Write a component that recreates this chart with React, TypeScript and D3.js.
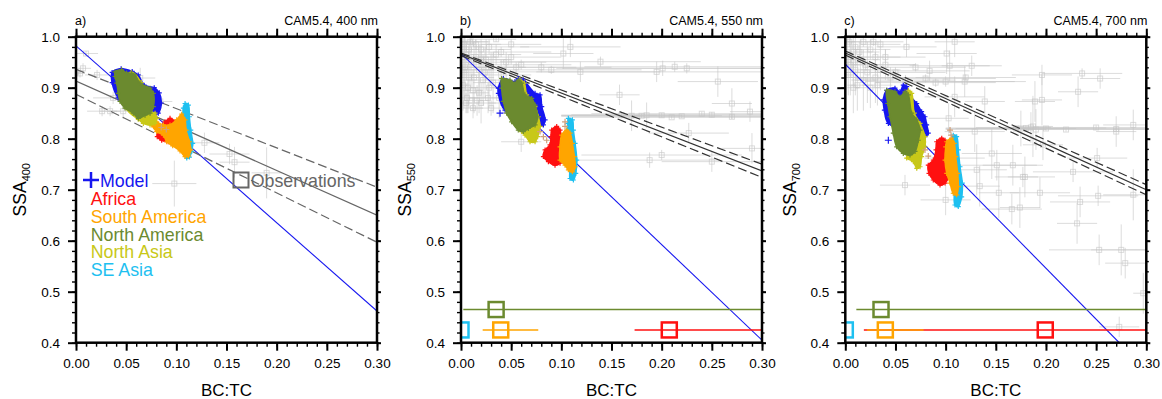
import React, { useEffect, useRef } from 'react';
import * as d3 from 'd3';

// tick labels
const xMajor = [0, 0.05, 0.1, 0.15, 0.2, 0.25, 0.3];
const yMajor = [0.4, 0.5, 0.6, 0.7, 0.8, 0.9, 1.0];
const panelLetters = ['a)', 'b)', 'c)'];
const panelTitles = ['CAM5.4, 400 nm', 'CAM5.4, 550 nm', 'CAM5.4, 700 nm'];
const ssaSubs = ['400', '550', '700'];

// legend
const regionNames = ['Africa', 'South America', 'North America', 'North Asia', 'SE Asia'];
const regionKeys = ['africa', 'southAmerica', 'northAmerica', 'northAsia', 'seAsia'];

// model fit line [x0, y0, x1, y1]
const modelLines = [
  [0, 0.982, 0.3, 0.462],
  [0, 0.967, 0.3, 0.405],
  [0, 0.946, 0.273, 0.4],
];
// observation fit: [solid, upper dashed, lower dashed], each [y at 0, y at 0.3]
const fitA = [[0.913, 0.65], [0.936, 0.705], [0.887, 0.597]];
const fitB = [[0.966, 0.737], [0.968, 0.75], [0.963, 0.724]];
const fitC = [[0.968, 0.7], [0.972, 0.71], [0.964, 0.69]];

// observations [x, y, xerr, yerr]
const obsA = [
  [0.010, 0.967, 0.012, 0.005], [0.007, 0.938, 0.008, 0.01], [0.004, 0.928, 0.005, 0.008],
  [0.021, 0.925, 0.012, 0.01], [0.037, 0.880, 0.02, 0.012], [0.026, 0.854, 0.015, 0.01],
  [0.034, 0.854, 0.01, 0.01], [0.047, 0.854, 0.015, 0.015], [0.084, 0.873, 0.012, 0.015],
  [0.064, 0.919, 0.015, 0.02], [0.128, 0.792, 0.015, 0.02], [0.153, 0.770, 0.02, 0.02],
  [0.158, 0.754, 0.015, 0.03], [0.190, 0.733, 0.015, 0.05], [0.098, 0.712, 0.022, 0.045],
  [0.0, 0.93, 0.005, 0.01],
];
const obsB = [
  [0.003, 0.985, 0.006, 0.015], [0.008, 0.975, 0.01, 0.02], [0.012, 0.99, 0.015, 0.01],
  [0.005, 0.965, 0.008, 0.03], [0.015, 0.96, 0.02, 0.025], [0.02, 0.975, 0.03, 0.02],
  [0.025, 0.955, 0.02, 0.04], [0.01, 0.95, 0.012, 0.05], [0.004, 0.94, 0.006, 0.06],
  [0.018, 0.935, 0.015, 0.05], [0.03, 0.94, 0.035, 0.03], [0.035, 0.965, 0.025, 0.02],
  [0.008, 0.92, 0.01, 0.06], [0.022, 0.915, 0.02, 0.05], [0.002, 0.905, 0.004, 0.05],
  [0.012, 0.895, 0.01, 0.04], [0.028, 0.9, 0.02, 0.04], [0.04, 0.925, 0.03, 0.03],
  [0.045, 0.95, 0.04, 0.02], [0.006, 0.88, 0.008, 0.03], [0.016, 0.875, 0.012, 0.03],
  [0.05, 0.985, 0.03, 0.01], [0.035, 0.995, 0.02, 0.005], [0.02, 0.87, 0.015, 0.04],
  [0.045, 0.9, 0.02, 0.05],
  [0.003, 0.93, 0.004, 0.07], [0.007, 0.9, 0.01, 0.05], [0.013, 0.92, 0.02, 0.07],
  [0.018, 0.89, 0.01, 0.04], [0.024, 0.93, 0.03, 0.05], [0.027, 0.88, 0.02, 0.03],
  [0.032, 0.91, 0.02, 0.06], [0.038, 0.88, 0.03, 0.04], [0.042, 0.87, 0.015, 0.02],
  [0.001, 0.96, 0.003, 0.04], [0.009, 0.99, 0.02, 0.008], [0.015, 0.985, 0.025, 0.01],
  [0.028, 0.98, 0.04, 0.015], [0.04, 0.97, 0.05, 0.01], [0.05, 0.96, 0.05, 0.015],
  [0.055, 0.94, 0.06, 0.01], [0.012, 0.86, 0.01, 0.02], [0.005, 0.87, 0.006, 0.02],
  [0.03, 0.86, 0.02, 0.015], [0.02, 0.955, 0.03, 0.03],
  [0.139, 0.951, 0.1, 0.01], [0.195, 0.931, 0.12, 0.02], [0.201, 0.938, 0.1, 0.015],
  [0.213, 0.941, 0.09, 0.01], [0.225, 0.938, 0.13, 0.01], [0.119, 0.931, 0.08, 0.02],
  [0.102, 0.967, 0.03, 0.03], [0.109, 0.980, 0.05, 0.02], [0.08, 0.94, 0.07, 0.01],
  [0.06, 0.945, 0.05, 0.01], [0.09, 0.935, 0.09, 0.008],
  [0.2, 0.846, 0.1, 0.004], [0.22, 0.844, 0.12, 0.003], [0.25, 0.847, 0.14, 0.005],
  [0.18, 0.845, 0.08, 0.004], [0.27, 0.843, 0.1, 0.004], [0.16, 0.846, 0.06, 0.006],
  [0.24, 0.849, 0.11, 0.004], [0.21, 0.842, 0.1, 0.003], [0.17, 0.845, 0.01, 0.03],
  [0.185, 0.846, 0.01, 0.025],
  [0.158, 0.886, 0.02, 0.02], [0.256, 0.912, 0.04, 0.03], [0.270, 0.869, 0.02, 0.03],
  [0.288, 0.853, 0.02, 0.02], [0.227, 0.811, 0.04, 0.02], [0.290, 0.781, 0.03, 0.03],
  [0.250, 0.755, 0.05, 0.02], [0.188, 0.758, 0.07, 0.015], [0.060, 0.794, 0.02, 0.02],
  [0.2, 0.768, 0.08, 0.01],
];
const obsC = [
  [0.004, 0.99, 0.006, 0.01], [0.01, 0.98, 0.012, 0.02], [0.018, 0.99, 0.015, 0.01],
  [0.025, 0.975, 0.02, 0.02], [0.006, 0.96, 0.008, 0.03], [0.015, 0.955, 0.02, 0.04],
  [0.03, 0.96, 0.025, 0.03], [0.035, 0.985, 0.02, 0.01], [0.04, 0.945, 0.03, 0.03],
  [0.01, 0.935, 0.012, 0.05], [0.022, 0.93, 0.02, 0.06], [0.003, 0.925, 0.005, 0.04],
  [0.03, 0.92, 0.03, 0.05], [0.045, 0.92, 0.04, 0.02], [0.012, 0.905, 0.01, 0.05],
  [0.025, 0.9, 0.015, 0.04], [0.008, 0.95, 0.01, 0.05], [0.02, 0.945, 0.05, 0.01],
  [0.05, 0.93, 0.05, 0.01],
  [0.002, 0.97, 0.004, 0.03], [0.014, 0.97, 0.02, 0.02], [0.028, 0.99, 0.03, 0.008],
  [0.018, 0.915, 0.012, 0.06], [0.035, 0.935, 0.02, 0.04], [0.008, 0.9, 0.006, 0.05],
  [0.04, 0.96, 0.04, 0.015], [0.005, 0.945, 0.008, 0.06], [0.032, 0.905, 0.015, 0.04],
  [0.08, 0.918, 0.07, 0.008], [0.1, 0.912, 0.08, 0.01], [0.06, 0.915, 0.05, 0.01],
  [0.12, 0.92, 0.05, 0.006], [0.09, 0.91, 0.06, 0.008], [0.07, 0.94, 0.05, 0.008],
  [0.2, 0.82, 0.1, 0.004], [0.22, 0.818, 0.12, 0.004], [0.25, 0.822, 0.12, 0.004],
  [0.18, 0.821, 0.08, 0.005], [0.27, 0.819, 0.1, 0.004], [0.17, 0.82, 0.06, 0.006],
  [0.185, 0.822, 0.02, 0.03], [0.19, 0.818, 0.01, 0.04], [0.175, 0.82, 0.01, 0.035],
  [0.061, 0.980, 0.03, 0.02], [0.109, 0.990, 0.02, 0.03], [0.101, 0.967, 0.03, 0.04],
  [0.104, 0.943, 0.04, 0.03], [0.126, 0.943, 0.03, 0.02], [0.084, 0.933, 0.04, 0.02],
  [0.119, 0.912, 0.05, 0.03], [0.196, 0.925, 0.03, 0.02], [0.236, 0.928, 0.04, 0.01],
  [0.254, 0.918, 0.02, 0.02], [0.232, 0.892, 0.02, 0.03], [0.196, 0.876, 0.02, 0.05],
  [0.189, 0.873, 0.02, 0.04], [0.139, 0.873, 0.02, 0.03], [0.109, 0.882, 0.03, 0.04],
  [0.103, 0.840, 0.02, 0.03], [0.129, 0.814, 0.03, 0.04], [0.146, 0.771, 0.03, 0.05],
  [0.151, 0.748, 0.04, 0.03], [0.167, 0.748, 0.03, 0.04], [0.187, 0.824, 0.02, 0.06],
  [0.197, 0.788, 0.02, 0.03], [0.251, 0.762, 0.03, 0.02], [0.287, 0.827, 0.03, 0.03],
  [0.270, 0.814, 0.02, 0.03], [0.179, 0.725, 0.03, 0.04], [0.227, 0.735, 0.04, 0.02],
  [0.131, 0.739, 0.03, 0.05], [0.109, 0.762, 0.03, 0.03], [0.0595, 0.709, 0.025, 0.02],
  [0.100, 0.680, 0.025, 0.03], [0.134, 0.707, 0.02, 0.04], [0.153, 0.694, 0.02, 0.05],
  [0.174, 0.665, 0.02, 0.04], [0.166, 0.662, 0.03, 0.03], [0.177, 0.725, 0.015, 0.02],
  [0.194, 0.694, 0.03, 0.03], [0.234, 0.676, 0.03, 0.03], [0.252, 0.688, 0.04, 0.02],
  [0.231, 0.634, 0.02, 0.04], [0.253, 0.582, 0.05, 0.03], [0.275, 0.582, 0.03, 0.05],
  [0.279, 0.556, 0.02, 0.03], [0.287, 0.690, 0.03, 0.05], [0.297, 0.497, 0.01, 0.04],
  [0.273, 0.431, 0.02, 0.02],
];

// model clouds (outlines), panel a
const modelA = [[0.036, 0.93], [0.045, 0.937], [0.056, 0.932], [0.062, 0.925], [0.068, 0.905], [0.078, 0.9], [0.083, 0.89], [0.085, 0.87], [0.082, 0.85], [0.075, 0.845], [0.06, 0.85], [0.042, 0.88], [0.036, 0.91]];
const naA = [[0.0389, 0.931], [0.0455, 0.935], [0.0505, 0.929], [0.0555, 0.928], [0.0588, 0.925], [0.0638, 0.909], [0.0738, 0.899], [0.0771, 0.889], [0.0771, 0.863], [0.0738, 0.85], [0.0688, 0.846], [0.0621, 0.84], [0.0571, 0.85], [0.0488, 0.86], [0.0439, 0.873], [0.0422, 0.889], [0.0406, 0.909], [0.0389, 0.922]];
const asA = [[0.055, 0.93], [0.065, 0.91], [0.0738, 0.853], [0.0788, 0.85], [0.0804, 0.84], [0.0788, 0.83], [0.0738, 0.827], [0.0671, 0.83], [0.0621, 0.838], [0.05, 0.86]];
const afA = [[0.0887, 0.833], [0.0937, 0.84], [0.0987, 0.833], [0.1004, 0.824], [0.0987, 0.814], [0.0954, 0.797], [0.092, 0.794], [0.0854, 0.797], [0.081, 0.804], [0.082, 0.817]];
const saA = [[0.0738, 0.843], [0.0804, 0.833], [0.0871, 0.827], [0.0937, 0.827], [0.1004, 0.837], [0.1054, 0.848], [0.1087, 0.837], [0.1097, 0.817], [0.113, 0.794], [0.1144, 0.778], [0.112, 0.766], [0.1087, 0.765], [0.1037, 0.776], [0.0964, 0.786], [0.0904, 0.794], [0.0871, 0.807], [0.0804, 0.814], [0.0755, 0.827]];
const seA = [[0.1087, 0.869], [0.112, 0.866], [0.113, 0.843], [0.1144, 0.817], [0.1163, 0.791], [0.1153, 0.775], [0.113, 0.764], [0.1104, 0.762], [0.1087, 0.778], [0.107, 0.804], [0.1064, 0.837], [0.107, 0.86]];
const tanA = [[0.085, 0.822], [0.09, 0.818]];

// panel b
const modelB = [[0.0372, 0.899], [0.0422, 0.918], [0.0538, 0.912], [0.0571, 0.918], [0.0621, 0.915], [0.0738, 0.889], [0.0788, 0.886], [0.0805, 0.863], [0.0838, 0.837], [0.0821, 0.827], [0.0771, 0.824], [0.0738, 0.843], [0.0439, 0.856], [0.0372, 0.889]];
const naB = [[0.0405, 0.918], [0.0488, 0.915], [0.0538, 0.909], [0.0571, 0.915], [0.0605, 0.909], [0.0638, 0.886], [0.0705, 0.879], [0.0738, 0.866], [0.0764, 0.843], [0.0738, 0.827], [0.0671, 0.82], [0.0621, 0.814], [0.0571, 0.817], [0.0505, 0.833], [0.0455, 0.85], [0.0422, 0.873], [0.0405, 0.899]];
const asB = [[0.0588, 0.915], [0.0631, 0.909], [0.0655, 0.886], [0.0738, 0.863], [0.0771, 0.843], [0.0788, 0.824], [0.0764, 0.804], [0.0738, 0.794], [0.0688, 0.794], [0.0638, 0.807], [0.0605, 0.814], [0.0671, 0.827]];
const afB = [[0.0904, 0.817], [0.0954, 0.824], [0.0987, 0.817], [0.0997, 0.804], [0.1004, 0.784], [0.101, 0.765], [0.0987, 0.752], [0.0937, 0.748], [0.0871, 0.755], [0.0821, 0.765], [0.0838, 0.778], [0.0887, 0.788], [0.0897, 0.804]];
const saB = [[0.1004, 0.807], [0.1054, 0.817], [0.1087, 0.811], [0.111, 0.791], [0.113, 0.765], [0.1137, 0.745], [0.111, 0.735], [0.107, 0.739], [0.1037, 0.748], [0.0987, 0.758], [0.0987, 0.784]];
const seB = [[0.107, 0.84], [0.111, 0.837], [0.112, 0.817], [0.1137, 0.791], [0.1154, 0.758], [0.1144, 0.732], [0.112, 0.719], [0.1087, 0.722], [0.1087, 0.745], [0.107, 0.771], [0.1054, 0.804], [0.1064, 0.83]];
const tanB = [[0.0788, 0.814], [0.0821, 0.804], [0.0854, 0.797], [0.1037, 0.833], [0.1037, 0.824]];

// panel c
const modelC = [[0.0379, 0.876], [0.0413, 0.895], [0.0495, 0.899], [0.0545, 0.892], [0.0578, 0.905], [0.0612, 0.902], [0.0628, 0.889], [0.0712, 0.869], [0.0761, 0.853], [0.0794, 0.843], [0.0811, 0.827], [0.0827, 0.811], [0.0794, 0.804], [0.0728, 0.811], [0.0429, 0.83], [0.0389, 0.856]];
const naC = [[0.0413, 0.895], [0.0495, 0.892], [0.0545, 0.882], [0.0595, 0.892], [0.0628, 0.886], [0.0662, 0.85], [0.0712, 0.837], [0.0745, 0.817], [0.0728, 0.797], [0.0695, 0.775], [0.0645, 0.768], [0.0578, 0.771], [0.0512, 0.784], [0.0478, 0.811], [0.0446, 0.843], [0.0423, 0.869]];
const asC = [[0.0628, 0.895], [0.0662, 0.889], [0.0688, 0.85], [0.0745, 0.83], [0.0794, 0.804], [0.0794, 0.784], [0.0761, 0.765], [0.0745, 0.745], [0.0712, 0.742], [0.0678, 0.755], [0.0612, 0.762], [0.0628, 0.771], [0.0695, 0.781], [0.0728, 0.801], [0.0695, 0.83], [0.0645, 0.856]];
const afC = [[0.0911, 0.794], [0.0961, 0.801], [0.0994, 0.797], [0.1001, 0.778], [0.1011, 0.752], [0.1027, 0.725], [0.0994, 0.713], [0.0944, 0.709], [0.0877, 0.719], [0.0834, 0.732], [0.0827, 0.748], [0.0877, 0.758], [0.0904, 0.778]];
const saC = [[0.1011, 0.794], [0.106, 0.801], [0.1086, 0.791], [0.11, 0.765], [0.112, 0.732], [0.1126, 0.706], [0.111, 0.69], [0.1076, 0.693], [0.1044, 0.713], [0.1011, 0.732], [0.0994, 0.758], [0.1001, 0.784]];
const seC = [[0.1076, 0.807], [0.111, 0.804], [0.1126, 0.778], [0.1143, 0.745], [0.1166, 0.713], [0.116, 0.686], [0.1126, 0.667], [0.1093, 0.67], [0.1086, 0.693], [0.1093, 0.719], [0.1076, 0.758], [0.1066, 0.791]];
const tanC = [[0.0794, 0.778], [0.0827, 0.766], [0.1044, 0.817], [0.1054, 0.807]];
const modelOutC = [[0.0429, 0.797]];
const modelOutB = [[0.0389, 0.85]];

// regional observations [region, x, y, xlo, xhi]
const regionObsB = [
  ['northAmerica', 0.035, 0.465, 0.0023, 0.32],
  ['southAmerica', 0.0396, 0.425, 0.0216, 0.077],
  ['africa', 0.2076, 0.425, 0.173, 0.32],
  ['seAsia', 0.0, 0.425, 0, 0],
];
const regionObsC = [
  ['africa', 0.1993, 0.425, 0.0185, 0.32],
  ['northAmerica', 0.0356, 0.465, 0.011, 0.32],
  ['southAmerica', 0.0399, 0.425, 0.0216, 0.078],
  ['seAsia', 0.0, 0.425, 0, 0],
];

const colors = {
  model: '#1616f0',
  africa: '#ff1010',
  southAmerica: '#ffa500',
  northAmerica: '#6b8a2f',
  northAsia: '#c8c818',
  seAsia: '#1ec0f0',
  tan: '#d0a07c',
};

const fits = [fitA, fitB, fitC];
const obsSets = [obsA, obsB, obsC];
const clouds = [
  { model: modelA, seAsia: seA, africa: afA, southAmerica: saA, northAsia: asA, northAmerica: naA, tan: tanA, out: [] },
  { model: modelB, seAsia: seB, africa: afB, southAmerica: saB, northAsia: asB, northAmerica: naB, tan: tanB, out: modelOutB },
  { model: modelC, seAsia: seC, africa: afC, southAmerica: saC, northAsia: asC, northAmerica: naC, tan: tanC, out: modelOutC },
];
const regionObs = [[], regionObsB, regionObsC];

const W = 301;
const H = 306;
const TOP = 36.7;
const lefts = [76, 461, 845.3];
const FONT = '"Liberation Sans", Arial, Helvetica, sans-serif';

function Panel({ i }: { i: number }) {
  const ref = useRef<SVGGElement>(null);

  useEffect(() => {
    const g = d3.select(ref.current);
    g.selectAll('*').remove();
    const x = d3.scaleLinear().domain([0, 0.3]).range([0, W]);
    const y = d3.scaleLinear().domain([0.4, 1]).range([H, 0]);

    const clipId = `clip-${i}`;
    g.append('clipPath').attr('id', clipId).append('rect').attr('width', W).attr('height', H);
    const plot = g.append('g').attr('clip-path', `url(#${clipId})`);

    // grey observations with error bars
    const og = plot.append('g').attr('fill', 'none').attr('stroke', '#c4c4c4').attr('stroke-opacity', 0.6).attr('stroke-width', 1);
    obsSets[i].forEach(([ox, oy, ex, ey]) => {
      og.append('line').attr('x1', x(ox - ex)).attr('x2', x(ox + ex)).attr('y1', y(oy)).attr('y2', y(oy));
      og.append('line').attr('x1', x(ox)).attr('x2', x(ox)).attr('y1', y(oy - ey)).attr('y2', y(oy + ey));
      og.append('rect').attr('x', x(ox) - 2.5).attr('y', y(oy) - 2.5).attr('width', 5).attr('height', 5);
    });

    // model regression
    const [mx0, my0, mx1, my1] = modelLines[i];
    plot.append('line')
      .attr('x1', x(mx0)).attr('y1', y(my0)).attr('x2', x(mx1)).attr('y2', y(my1))
      .attr('stroke', colors.model).attr('stroke-width', 1.1);

    // observation regression + bounds
    const fitColor = i === 0 ? '#666' : '#333';
    fits[i].forEach(([a, b], k) => {
      plot.append('line')
        .attr('x1', x(0)).attr('y1', y(a)).attr('x2', x(0.3)).attr('y2', y(b))
        .attr('stroke', fitColor).attr('stroke-width', 1.2)
        .attr('stroke-dasharray', k === 0 ? null : '9,4');
    });

    // model clouds
    const area = d3.line().x(d => x(d[0])).y(d => y(d[1])).curve(d3.curveCatmullRomClosed.alpha(0.5));
    const plus = (sel, pts, color, s) => {
      pts.forEach(([px, py]) => {
        sel.append('path')
          .attr('d', `M${x(px) - s},${y(py)}H${x(px) + s}M${x(px)},${y(py) - s}V${y(py) + s}`)
          .attr('stroke', color).attr('stroke-width', 1.2).attr('fill', 'none');
      });
    };
    const cg = plot.append('g');
    const c = clouds[i];
    ['model', 'seAsia', 'africa', 'southAmerica', 'northAsia', 'northAmerica'].forEach(key => {
      cg.append('path').attr('d', area(c[key]))
        .attr('fill', colors[key]).attr('stroke', colors[key]).attr('stroke-width', 1.5)
        .attr('stroke-linejoin', 'round');
      plus(cg, c[key], colors[key], 2.5);
    });
    plus(cg, c.tan, colors.tan, 3);
    plus(cg, c.out, colors.model, 3.5);

    // regional observations
    regionObs[i].forEach(([key, rx, ry, lo, hi]) => {
      if (hi > lo) {
        plot.append('line').attr('x1', x(lo)).attr('x2', x(hi)).attr('y1', y(ry)).attr('y2', y(ry))
          .attr('stroke', colors[key]).attr('stroke-width', 1.6);
      }
      plot.append('rect').attr('x', x(rx) - 7.5).attr('y', y(ry) - 7.5).attr('width', 15).attr('height', 15)
        .attr('fill', 'none').attr('stroke', colors[key]).attr('stroke-width', 2.5);
    });

    // axes (NCL style, outward ticks)
    const xMinor = d3.range(0, 31).map(k => k / 100);
    const yMinor = d3.range(20, 51).map(k => k / 50);
    const styleAxis = (a, w) => {
      a.select('.domain').remove();
      a.selectAll('line').attr('stroke', '#000').attr('stroke-width', w);
      a.selectAll('text').attr('font-family', FONT).attr('font-size', 13.5).attr('fill', '#000');
      a.attr('font-family', null).attr('font-size', null);
    };
    const none = () => '';
    const ax = g.append('g');
    styleAxis(ax.append('g').attr('transform', `translate(0,${H})`).call(d3.axisBottom(x).tickValues(xMinor).tickSize(4).tickFormat(none)), 1.4);
    styleAxis(ax.append('g').attr('transform', `translate(0,${H})`).call(d3.axisBottom(x).tickValues(xMajor).tickSize(8).tickPadding(8).tickFormat(d3.format('.2f'))), 2);
    styleAxis(ax.append('g').call(d3.axisTop(x).tickValues(xMinor).tickSize(4).tickFormat(none)), 1.4);
    styleAxis(ax.append('g').call(d3.axisTop(x).tickValues(xMajor).tickSize(8).tickFormat(none)), 2);
    styleAxis(ax.append('g').call(d3.axisLeft(y).tickValues(yMinor).tickSize(4).tickFormat(none)), 1.4);
    styleAxis(ax.append('g').call(d3.axisLeft(y).tickValues(yMajor).tickSize(8).tickPadding(8).tickFormat(d3.format('.1f'))), 2);
    styleAxis(ax.append('g').attr('transform', `translate(${W},0)`).call(d3.axisRight(y).tickValues(yMinor).tickSize(2.5).tickFormat(none)), 1.4);
    styleAxis(ax.append('g').attr('transform', `translate(${W},0)`).call(d3.axisRight(y).tickValues(yMajor).tickSize(4).tickFormat(none)), 2);
    ax.append('rect').attr('width', W).attr('height', H).attr('fill', 'none').attr('stroke', '#000').attr('stroke-width', 2.5);
  }, [i]);

  return (
    <g transform={`translate(${lefts[i]},${TOP})`} fontFamily={FONT}>
      <g ref={ref} />
      <text x={-1} y={-11.7} fontSize={12.5}>{panelLetters[i]}</text>
      <text x={W + 1} y={-11.7} fontSize={12.5} textAnchor="end">{panelTitles[i]}</text>
      <text x={W / 2} y={359.3} fontSize={17} textAnchor="middle">BC:TC</text>
      <text transform={`translate(-49.7,${H / 2}) rotate(-90)`} fontSize={17.5} textAnchor="middle">
        SSA<tspan fontSize={11} dy={4}>{ssaSubs[i]}</tspan>
      </text>
      {i === 0 && <Legend />}
    </g>
  );
}

function Legend() {
  const step = 17.7;
  return (
    <g fontSize={17.8}>
      <path d="M7,143.3H23M15,135.3V151.3" stroke={colors.model} strokeWidth={2.5} />
      <text x={24} y={150.8} fill={colors.model}>Model</text>
      {regionNames.map((name, k) => (
        <text key={name} x={14.7} y={150.8 + step * (k + 1)} fill={colors[regionKeys[k]]}>{name}</text>
      ))}
      <rect x={157.5} y={135.8} width={15} height={15} fill="none" stroke="#666" strokeWidth={2} />
      <text x={174.7} y={150.8} fill="#666">Observations</text>
    </g>
  );
}

export default function App() {
  return (
    <svg width={1162} height={399} style={{ position: 'absolute', left: 0, top: 0, background: '#fff' }}>
      <rect width={1162} height={399} fill="#fff" />
      {[0, 1, 2].map(i => <Panel key={i} i={i} />)}
    </svg>
  );
}
